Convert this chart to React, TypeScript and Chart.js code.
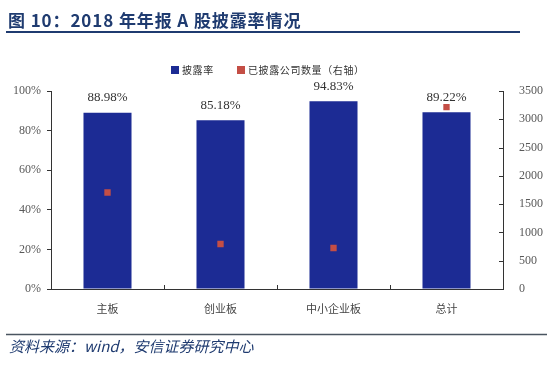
import React, { useEffect, useRef } from "react";
import { Chart, registerables } from "chart.js";

Chart.register(...registerables);

const categories = ["主板", "创业板", "中小企业板", "总计"];
const disclosureRate = [88.98, 85.18, 94.83, 89.22];
const disclosedCount = [1705, 795, 725, 3215];
const rateLabels = ["88.98%", "85.18%", "94.83%", "89.22%"];

const TITLE = "图 10：2018 年年报 A 股披露率情况";
const FOOTER = "资料来源：wind，安信证券研究中心";
const LEGEND_RATE = "披露率";
const LEGEND_COUNT = "已披露公司数量（右轴）";

const BLUE = "#1c2b94";
const RED = "#c44e45";
const NAVY = "#1f3b70";
const SERIF = "'Liberation Serif', 'Times New Roman', serif";
const CJK = "'Noto Sans CJK SC', sans-serif";

const decorPlugin = {
  id: "decor",
  afterDraw(chart: any) {
    const ctx = chart.ctx;
    const area = chart.chartArea;
    ctx.save();
    // title
    ctx.fillStyle = NAVY;
    ctx.font = `bold 17px ${CJK}`;
    ctx.textBaseline = "alphabetic";
    ctx.textAlign = "left";
    (ctx as any).letterSpacing = "0.9px";
    ctx.fillText(TITLE, 8, 27);
    (ctx as any).letterSpacing = "0px";
    ctx.strokeStyle = NAVY;
    ctx.lineWidth = 2;
    ctx.beginPath();
    ctx.moveTo(6, 32);
    ctx.lineTo(520, 32);
    ctx.stroke();
    // footer
    ctx.strokeStyle = "#4a5560";
    ctx.lineWidth = 1.5;
    ctx.beginPath();
    ctx.moveTo(6, 334.5);
    ctx.lineTo(547, 334.5);
    ctx.stroke();
    ctx.fillStyle = NAVY;
    ctx.font = `italic 15px ${CJK}`;
    ctx.textBaseline = "middle";
    ctx.fillText(FOOTER, 9, 346);
    // legend
    ctx.font = `10px ${CJK}`;
    (ctx as any).letterSpacing = "0.6px";
    ctx.fillStyle = BLUE;
    ctx.fillRect(171, 66, 8, 8);
    ctx.fillStyle = "#333";
    ctx.fillText(LEGEND_RATE, 182, 70);
    ctx.fillStyle = RED;
    ctx.fillRect(237, 66, 8, 8);
    ctx.fillStyle = "#333";
    ctx.fillText(LEGEND_COUNT, 248, 70);
    (ctx as any).letterSpacing = "0px";
    // data labels
    const meta = chart.getDatasetMeta(0);
    ctx.font = `13px ${SERIF}`;
    ctx.fillStyle = "#333";
    ctx.textAlign = "center";
    ctx.textBaseline = "middle";
    meta.data.forEach((bar: any, i: number) => {
      ctx.fillText(rateLabels[i], bar.x, bar.y - 15);
    });
    // x-axis inner ticks between categories
    const xs = chart.scales.x;
    ctx.strokeStyle = "#333";
    ctx.lineWidth = 1;
    for (let i = 1; i < categories.length; i++) {
      const x = Math.round((xs.getPixelForValue(i - 1) + xs.getPixelForValue(i)) / 2) + 0.5;
      ctx.beginPath();
      ctx.moveTo(x, area.bottom);
      ctx.lineTo(x, area.bottom - 4);
      ctx.stroke();
    }
    // right axis inner ticks
    const y1 = chart.scales.y1;
    y1.ticks.forEach((t: any) => {
      const y = Math.round(y1.getPixelForValue(t.value)) + 0.5;
      ctx.beginPath();
      ctx.moveTo(area.right, y);
      ctx.lineTo(area.right - 4, y);
      ctx.stroke();
    });
    ctx.restore();
  },
};

export default function App() {
  const ref = useRef<HTMLCanvasElement>(null);
  useEffect(() => {
    const chart = new Chart(ref.current!, {
      type: "bar",
      data: {
        labels: categories,
        datasets: [
          {
            type: "bar",
            label: LEGEND_RATE,
            data: disclosureRate,
            backgroundColor: BLUE,
            categoryPercentage: 1,
            barPercentage: 0.425,
            yAxisID: "y",
            order: 2,
          },
          {
            type: "line",
            label: LEGEND_COUNT,
            data: disclosedCount,
            showLine: false,
            pointStyle: "rect",
            pointRadius: 4.5,
            pointBackgroundColor: RED,
            pointBorderWidth: 0,
            borderColor: RED,
            yAxisID: "y1",
            order: 1,
          },
        ],
      },
      options: {
        animation: false,
        responsive: false,
        maintainAspectRatio: false,
        layout: { padding: { top: 91, left: 0, right: 0, bottom: 0 } },
        plugins: { legend: { display: false }, tooltip: { enabled: false } },
        scales: {
          x: {
            grid: { display: false },
            border: { display: true, color: "#333" },
            ticks: {
              color: "#444",
              font: { family: CJK, size: 11 },
              padding: 5,
            },
            afterFit(scale: any) {
              scale.height = 78;
            },
          },
          y: {
            position: "left",
            min: 0,
            max: 100,
            grid: { display: true, drawOnChartArea: false, tickLength: 4, color: "#333" },
            border: { display: true, color: "#333" },
            ticks: {
              stepSize: 20,
              color: "#595959",
              font: { family: SERIF, size: 12 },
              padding: 6,
              callback: (v: any) => `${v}%`,
            },
            afterFit(scale: any) {
              scale.width = 51;
            },
          },
          y1: {
            position: "right",
            min: 0,
            max: 3500,
            grid: { display: false },
            border: { display: true, color: "#333" },
            ticks: {
              stepSize: 500,
              color: "#595959",
              font: { family: SERIF, size: 12 },
              padding: 8,
              callback: (v: any) => String(v),
            },
            afterFit(scale: any) {
              scale.width = 47;
            },
          },
        },
      },
      plugins: [decorPlugin],
    } as any);
    return () => chart.destroy();
  }, []);
  return (
    <div style={{ position: "fixed", left: 0, top: 0, width: 550, height: 367, background: "#fff" }}>
      <canvas ref={ref} width={550} height={367} style={{ width: 550, height: 367 }} />
    </div>
  );
}
